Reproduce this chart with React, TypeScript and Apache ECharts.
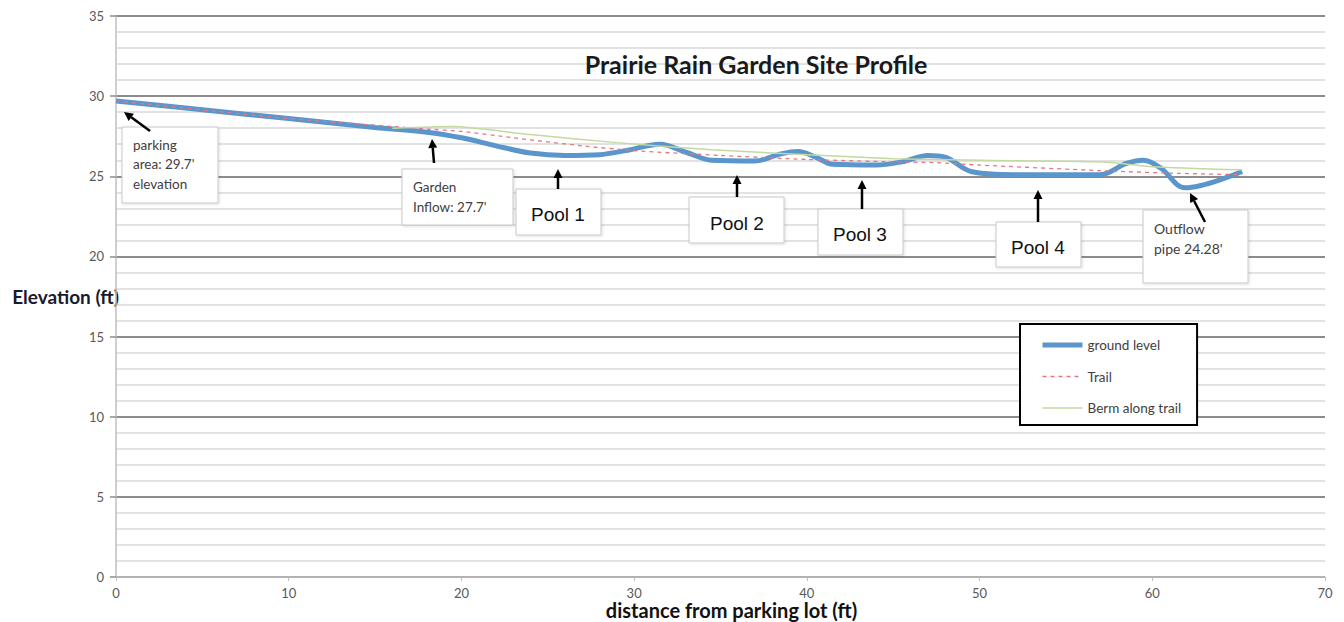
import React, { useEffect, useRef } from "react";
import * as echarts from "echarts";

// ---- data ----
const groundX = [0, 5, 10, 15, 18, 20, 22, 24, 26, 28, 29.5, 31.5, 33, 34.5, 37, 38.5, 39.5, 40.5, 41.5, 44, 45.5, 47, 48, 49.5, 52, 57, 58.5, 59.5, 60.5, 61.9, 65.2];
const groundY = [29.7, 29.15, 28.6, 28.05, 27.75, 27.4, 26.9, 26.45, 26.3, 26.35, 26.6, 27.0, 26.5, 26.0, 25.95, 26.4, 26.55, 26.2, 25.75, 25.7, 25.9, 26.3, 26.2, 25.3, 25.1, 25.1, 25.8, 26.0, 25.5, 24.28, 25.3];

const trailX = [0, 10, 18, 20, 23, 27, 30, 35, 40, 45, 47.5, 50, 57, 61, 65];
const trailY = [29.7, 28.6, 27.95, 27.8, 27.4, 26.9, 26.6, 26.3, 26.05, 25.9, 25.85, 25.7, 25.35, 25.2, 25.1];

const bermX = [16, 19.5, 24, 29, 34.5, 40, 45, 50, 57, 60, 65.2];
const bermY = [28.0, 28.1, 27.6, 27.1, 26.65, 26.35, 26.1, 26.0, 25.9, 25.6, 25.4];

const seriesNames = ["ground level", "Trail", "Berm along trail"];
const titleText = "Prairie Rain Garden Site Profile";
const xName = "distance from parking lot (ft)";
const yName = "Elevation (ft)";

const CAL = "Lato, 'Open Sans', sans-serif";
const ARIAL = "'Liberation Sans', Arial, sans-serif";

const GROUND = "#5a95cc";
const TRAIL = "#e07a82";
const BERM = "#c3d9a0";

function arrow(x1: number, y1: number, x2: number, y2: number) {
  const dx = x2 - x1, dy = y2 - y1;
  const len = Math.sqrt(dx * dx + dy * dy);
  const ux = dx / len, uy = dy / len;
  const hl = 9, hw = 4.5;
  const bx = x2 - ux * hl, by = y2 - uy * hl;
  const px = -uy, py = ux;
  return [
    { type: "line", z: 20, shape: { x1, y1, x2: bx, y2: by }, style: { stroke: "#000", lineWidth: 2.5 } },
    {
      type: "polygon", z: 20,
      shape: { points: [[x2, y2], [bx + px * hw, by + py * hw], [bx - px * hw, by - py * hw]] },
      style: { fill: "#000" },
    },
  ];
}

function box(x: number, y: number, w: number, h: number) {
  return {
    type: "rect", z: 15,
    shape: { x, y, width: w, height: h },
    style: { fill: "#fff", stroke: "#c8c8c8", lineWidth: 1, shadowColor: "rgba(0,0,0,0.12)", shadowBlur: 3, shadowOffsetX: 1, shadowOffsetY: 1 },
  };
}

function noteText(x: number, y: number, text: string, size: number, lh: number) {
  return {
    type: "text", z: 16, x, y,
    style: { text, fill: "#404040", font: `${size}px ${CAL}`, lineHeight: lh, textVerticalAlign: "top" },
  };
}

function poolText(cx: number, cy: number, text: string) {
  return {
    type: "text", z: 16, x: cx, y: cy,
    style: { text, fill: "#111", font: `19px ${ARIAL}`, textAlign: "center", textVerticalAlign: "middle" },
  };
}

export default function App() {
  const ref = useRef<HTMLDivElement>(null);
  useEffect(() => {
    if (!ref.current) return;
    const chart = echarts.init(ref.current, undefined, { renderer: "svg" });
    const pairs = (xs: number[], ys: number[]) => xs.map((x, i) => [x, ys[i]]);

    const graphics: any[] = [
      {
        type: "text", x: 756, y: 64, z: 10,
        style: { text: titleText, fill: "#1a1a1a", font: `bold 25px ${CAL}`, textAlign: "center", textVerticalAlign: "middle" },
      },
      box(122, 127, 96, 76),
      noteText(133, 135, "parking\narea: 29.7'\nelevation", 13.5, 19.5),
      box(402, 169, 111, 56),
      noteText(413, 177, "Garden\nInflow: 27.7'", 13.5, 20),
      box(516, 189, 85, 46),
      poolText(558, 214, "Pool 1"),
      box(689, 197, 95, 46),
      poolText(737, 223, "Pool 2"),
      box(818, 209, 85, 46),
      poolText(860, 234, "Pool 3"),
      box(996, 222, 85, 45),
      poolText(1038, 247, "Pool 4"),
      box(1143, 210, 105, 73),
      noteText(1154, 218, "Outflow\npipe 24.28'", 14, 20),
      ...arrow(150, 131, 124, 112),
      ...arrow(434, 163, 432, 139),
      ...arrow(558, 189, 558, 169),
      ...arrow(737, 197, 737, 175),
      ...arrow(862, 209, 862, 180),
      ...arrow(1038, 222, 1038, 190),
      ...arrow(1205, 222, 1190, 193),
    ];

    chart.setOption({
      animation: false,
      backgroundColor: "#fff",
      grid: { left: 116, right: 19, top: 16, bottom: 45, containLabel: false, outerBoundsMode: "none" },
      xAxis: {
        type: "value", min: 0, max: 70, interval: 10,
        name: xName, nameLocation: "middle", nameGap: 23, nameMoveOverlap: false,
        nameTextStyle: { fontFamily: CAL, fontWeight: "bold", fontSize: 20, lineHeight: 20, color: "#111", padding: [0, 0, 0, 22] },
        axisLine: { show: true, lineStyle: { color: "#bfbfbf", width: 1.5 } },
        axisTick: { show: true, length: 4, lineStyle: { color: "#bfbfbf" } },
        axisLabel: { margin: 9, fontFamily: CAL, fontSize: 13, color: "#595959" },
        splitLine: { show: false },
      },
      yAxis: {
        type: "value", min: 0, max: 35, interval: 5,
        name: yName, nameLocation: "middle", nameRotate: 0, nameGap: -3, nameMoveOverlap: false,
        nameTextStyle: { fontFamily: CAL, fontWeight: "bold", fontSize: 19, color: "#1a1a2e", align: "right" },
        axisLine: { show: true, lineStyle: { color: "#bfbfbf", width: 1.5 } },
        axisTick: { show: true, length: 6, lineStyle: { color: "#8c8c8c", width: 1.5 } },
        axisLabel: { margin: 12, fontFamily: CAL, fontSize: 13, color: "#595959" },
        splitLine: { show: true, lineStyle: { color: "#8c8c8c", width: 2 } },
        minorTick: { show: false, splitNumber: 5 },
        minorSplitLine: { show: true, lineStyle: { color: "#d9d9d9", width: 1.5 } },
      },
      legend: {
        orient: "vertical", left: 1020, top: 324,
        padding: [14, 16, 10, 20], itemGap: 17.5, itemWidth: 40, itemHeight: 14,
        borderColor: "#000", borderWidth: 2, backgroundColor: "#fff",
        textStyle: { fontFamily: CAL, fontSize: 13.5, color: "#404040" },
        itemStyle: { opacity: 0 },
        data: [
          { name: seriesNames[0], lineStyle: { width: 5, color: GROUND } },
          { name: seriesNames[1], lineStyle: { width: 1.3, color: TRAIL, type: [4, 4] } },
          { name: seriesNames[2], lineStyle: { width: 1.5, color: BERM } },
        ],
        z: 30,
      },
      series: [
        {
          name: seriesNames[0], type: "line", data: pairs(groundX, groundY),
          symbol: "none", smooth: 0.35,
          lineStyle: { color: GROUND, width: 5 }, itemStyle: { color: GROUND, opacity: 0 }, z: 3,
        },
        {
          name: seriesNames[1], type: "line", data: pairs(trailX, trailY),
          symbol: "none", smooth: 0.2,
          lineStyle: { color: TRAIL, width: 1.3, type: [4, 4] }, itemStyle: { color: TRAIL, opacity: 0 }, z: 4,
        },
        {
          name: seriesNames[2], type: "line", data: pairs(bermX, bermY),
          symbol: "none", smooth: 0.2,
          lineStyle: { color: BERM, width: 1.5 }, itemStyle: { color: BERM, opacity: 0 }, z: 5,
        },
      ],
      graphic: graphics,
    });
    return () => chart.dispose();
  }, []);
  return <div ref={ref} style={{ position: "fixed", left: 0, top: 0, width: 1344, height: 622 }} />;
}
